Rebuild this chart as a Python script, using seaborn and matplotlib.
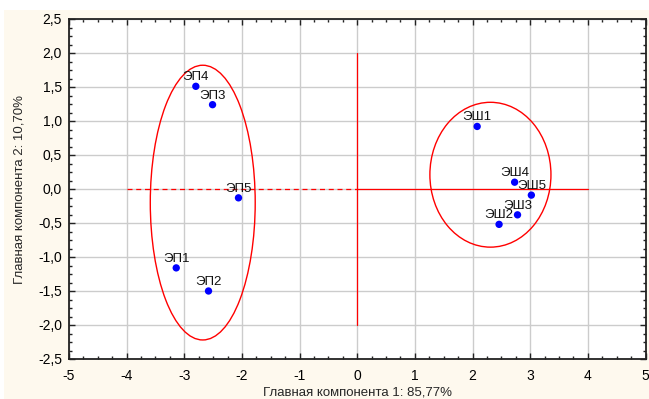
import matplotlib
matplotlib.use("Agg")
import matplotlib.pyplot as plt
import seaborn as sns
import pandas as pd
from matplotlib.patches import Ellipse, Rectangle
from matplotlib.ticker import MultipleLocator, FuncFormatter

# Sample scores on the first two principal components
labels = ["ЭП1", "ЭП2", "ЭП3", "ЭП4", "ЭП5", "ЭШ1", "ЭШ2", "ЭШ3", "ЭШ4", "ЭШ5"]
pc1 = [-3.14, -2.58, -2.51, -2.80, -2.06, 2.08, 2.46, 2.78, 2.73, 3.02]
pc2 = [-1.16, -1.50, 1.24, 1.51, -0.13, 0.92, -0.52, -0.38, 0.10, -0.09]

# Group ellipses: centre x, centre y, full width, full height
ellipse_cx = [-2.68, 2.31]
ellipse_cy = [-0.20, 0.21]
ellipse_w = [1.82, 2.10]
ellipse_h = [4.04, 2.13]

df = pd.DataFrame({"pc1": pc1, "pc2": pc2, "label": labels})

sns.set_theme(style="white")
plt.rcParams["font.family"] = ["Liberation Sans", "DejaVu Sans"]

fig = plt.figure(figsize=(6.49, 3.99), dpi=100)
fig.patch.set_facecolor("white")
fig.patches.append(Rectangle((4 / 649, 0), 1, 1 - 10 / 399, transform=fig.transFigure,
                             facecolor="#FEF9EE", edgecolor="none", zorder=-10))

ax = fig.add_axes([69 / 649, 1 - 359 / 399, (645.5 - 69) / 649, (359 - 19) / 399])
ax.set_facecolor("white")

ax.set_xlim(-5, 5)
ax.set_ylim(-2.5, 2.5)
ax.xaxis.set_major_locator(MultipleLocator(1))
ax.xaxis.set_minor_locator(MultipleLocator(0.25))
ax.yaxis.set_major_locator(MultipleLocator(0.5))
ax.yaxis.set_minor_locator(MultipleLocator(0.125))
ax.yaxis.set_major_formatter(FuncFormatter(lambda v, p: f"{v:.1f}".replace(".", ",").replace("-0,0", "0,0")))
ax.xaxis.set_major_formatter(FuncFormatter(lambda v, p: f"{v:.0f}"))

ax.grid(True, which="major", color="#cccccc", linewidth=1.0)
ax.set_axisbelow(True)

ax.tick_params(which="both", direction="in", top=True, right=True, left=True, bottom=True,
               colors="#222222", labelcolor="black", labelsize=10)
ax.tick_params(which="major", length=4, width=1)
ax.tick_params(which="minor", length=2.5, width=1)
ax.tick_params(axis="x", pad=7)
ax.tick_params(axis="y", pad=5)
for s in ax.spines.values():
    s.set_color("#222222")
    s.set_linewidth(1.3)

# Reference axes through the origin
ax.plot([-4, 0], [0, 0], color="red", lw=0.9, linestyle=(0, (4, 3)), zorder=2)
ax.plot([0, 4], [0, 0], color="red", lw=0.9, zorder=2)
ax.plot([0, 0], [-2, 2], color="red", lw=0.9, zorder=2)

for cx, cy, w, h in zip(ellipse_cx, ellipse_cy, ellipse_w, ellipse_h):
    ax.add_patch(Ellipse((cx, cy), w, h, facecolor="none", edgecolor="red", lw=1.0, zorder=3))

sns.scatterplot(data=df, x="pc1", y="pc2", ax=ax, color="#0000ff", s=28,
                edgecolor="none", zorder=4, legend=False)

for x, y, t in zip(df["pc1"], df["pc2"], df["label"]):
    ax.annotate(t, (x, y), xytext=(0, 6.5), textcoords="offset points",
                ha="center", va="center", fontsize=9.5, color="#111111", zorder=5)

ax.set_xlabel("Главная компонента 1: 85,77%", fontsize=9.5, labelpad=3)
ax.set_ylabel("Главная компонента 2: 10,70%", fontsize=9.5, labelpad=9)

fig.savefig("out.png", dpi=100)
